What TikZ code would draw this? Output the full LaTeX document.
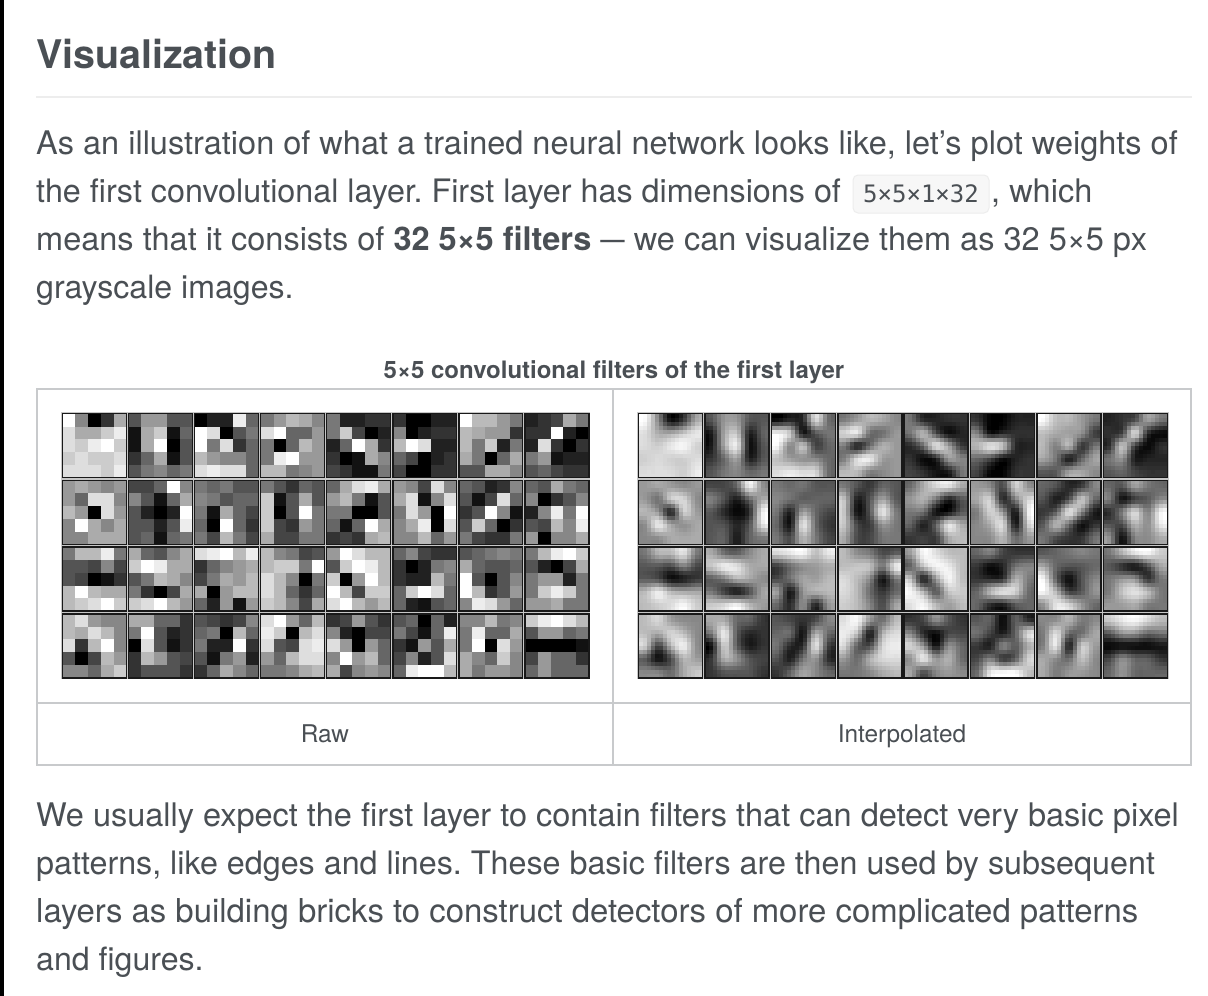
\documentclass[tikz,border=0pt]{standalone}
\usepackage{fontspec}
\setmainfont{TeX Gyre Heros}
\newfontfamily\codefont{DejaVu Sans Mono}
\frenchspacing

\definecolor{bodyink}{HTML}{4A4F54}
\definecolor{tablerule}{HTML}{C8CACC}

% gray levels of the 32 filters, one hex digit per pixel, 0 is black
\def\filterlist{
  F803A/DAACE/DCEFC/CDCCD/DDDCE, 59955/1AC16/1AF05/36A15/57867,
  022E6/FD057/F7D36/B9886/DEDD6, 79BA8/DF669/706B9/7EF99/BB789,
  72233/7C402/26FA3/301A8/43117, 30022/80233/BFD22/64023/40033,
  FBB97/BA993/B7C27/A706A/55AA8, 234A7/33F20/2D303/79122/56433,
  9A989/96DD8/B90D9/8FA8A/88AAA, 446F8/8516A/5202F/5525E/56167,
  76755/87566/71A64/60F63/74B74, 75365/C15A5/C05F7/C4397/A4477,
  6ADEA/9B715/77005/616FA/343AB, 984D8/AD18D/7D90F/8AE0D/88B69,
  65238/514D6/35F81/5C603/74337, 65A76/80358/28E7F/54B8E/9088A,
  7BBE7/55484/54013/BFBAA/BCDFC, A658A/CFEAA/57BA8/7304A/CDFB9,
  DEFBE/3689A/47A9B/A09BB/62919, B8745/BCC7F/DB807/DB636/CB84A,
  9FDBB/5CFEB/C09FB/FB4CC/DFB9B, 68433/30278/322B7/6CFD6/62156,
  56787/A6556/F5058/FB359/8ED96, 7BEFC/5204A/79927/7CEC7/99A77,
  BD988/BADB8/D3BF8/504B9/886AC, AA663/7F523/0D513/3B954/35553,
  54348/670B6/722F3/51792/36A86, DF96B/EC0BD/D54DE/96BDD/778AB,
  34953/82044/D9096/8F9B6/A4898, 56062/7416E/3195A/4825D/6EFFB,
  88B78/7E66A/7F0D9/A86C8/A7998, CEFDB/59967/00001/49663/69666}

% sub-pixel offset and the four neighbours for the 16 interpolated samples
\foreach \sx/\ft/\ia/\ib/\ic/\id in {0/21/0/0/0/1, 1/31/0/0/0/1, 2/9/0/0/1/2, 3/19/0/0/1/2,
    4/29/0/0/1/2, 5/7/0/1/2/3, 6/17/0/1/2/3, 7/27/0/1/2/3, 8/5/1/2/3/4, 9/15/1/2/3/4,
    10/25/1/2/3/4, 11/3/2/3/4/4, 12/13/2/3/4/4, 13/23/2/3/4/4, 14/1/3/4/4/4, 15/11/3/4/4/4}{
  \expandafter\xdef\csname wa\sx\endcsname{\the\numexpr(480*\ft*\ft-7*\ft*\ft*\ft-9216*\ft+32768)/576\relax}
  \expandafter\xdef\csname wb\sx\endcsname{\the\numexpr(21*\ft*\ft*\ft-1152*\ft*\ft+524288)/576\relax}
  \expandafter\xdef\csname wc\sx\endcsname{\the\numexpr(864*\ft*\ft-21*\ft*\ft*\ft+9216*\ft+32768)/576\relax}
  \expandafter\xdef\csname wd\sx\endcsname{\the\numexpr(7*\ft*\ft*\ft-192*\ft*\ft)/576\relax}
  \expandafter\xdef\csname ia\sx\endcsname{\ia}
  \expandafter\xdef\csname ib\sx\endcsname{\ib}
  \expandafter\xdef\csname ic\sx\endcsname{\ic}
  \expandafter\xdef\csname id\sx\endcsname{\id}
}

\def\wt#1#2{\csname w#1#2\endcsname}
\def\idx#1#2{\csname i#1#2\endcsname}
\def\vcell#1#2{\csname v#1#2\endcsname}
\def\hcell#1#2{\csname h#1x#2\endcsname}

\newcommand{\storerow}[6]{%
  \expandafter\edef\csname v#10\endcsname{\number"#2}%
  \expandafter\edef\csname v#11\endcsname{\number"#3}%
  \expandafter\edef\csname v#12\endcsname{\number"#4}%
  \expandafter\edef\csname v#13\endcsname{\number"#5}%
  \expandafter\edef\csname v#14\endcsname{\number"#6}%
}
\newcommand{\readfilter}{%
  \expandafter\storerow\expandafter0\rowa
  \expandafter\storerow\expandafter1\rowb
  \expandafter\storerow\expandafter2\rowc
  \expandafter\storerow\expandafter3\rowd
  \expandafter\storerow\expandafter4\rowe
}
% smoothing along the rows
\newcommand{\hpass}{%
  \foreach \rr in {0,...,4}{\foreach \sx in {0,...,15}{%
    \expandafter\xdef\csname h\rr x\sx\endcsname{\the\numexpr 17*(%
      \wt a\sx*\vcell\rr{\idx a\sx}+\wt b\sx*\vcell\rr{\idx b\sx}+%
      \wt c\sx*\vcell\rr{\idx c\sx}+\wt d\sx*\vcell\rr{\idx d\sx})\relax}%
  }}%
}

\tikzset{
  bodytext/.style={anchor=base west, inner sep=0pt, text=bodyink, font=\fontsize{32.5}{48}\selectfont},
  tabletext/.style={anchor=base, inner sep=0pt, text=bodyink, font=\fontsize{24.4}{30}\selectfont},
  filterframe/.style={draw=black!90, line width=1.4pt},
  filterhalo/.style={draw=black!22, line width=3pt},
  tableline/.style={draw=tablerule, line width=2pt},
  codechip/.style={draw=black!7, fill=black!3, rounded corners=5pt, line width=1pt, inner sep=0pt,
    minimum width=136pt, minimum height=38pt, text=bodyink, font=\fontsize{24}{30}\codefont}
}

\begin{document}
\begin{tikzpicture}[x=1pt, y=-1pt]
  \useasboundingbox (0,0) rectangle (1208,996);
  \fill[white] (0,0) rectangle (1208,996);
  \fill[black] (0,0) rectangle (4,996);

  % heading
  \node[bodytext, font=\fontsize{39.4}{48}\bfseries] (heading) at (36,68) {Visualization};
  \draw[black!7, line width=1.5pt] (36,97) -- (1192,97);

  % first paragraph
  \node[bodytext] (lineone) at (36,154) {As an illustration of what a trained neural network looks like, let’s plot weights of};
  \node[bodytext, font=\fontsize{32.3}{48}\selectfont] (linetwo) at (36,202) {the first convolutional layer. First layer has dimensions of};
  \node[codechip] (dims) at (921,194) {5×5×1×32};
  \node[bodytext] (linetwob) at (991,202) {, which};
  \node[bodytext] (linethree) at (36,250) {means that it consists of \textbf{32 5×5 filters} \scalebox{0.75}[1]{—} we can visualize them as 32 5×5 px};
  \node[bodytext, font=\fontsize{32.1}{48}\selectfont] (linefour) at (36,298) {grayscale images.};

  % table
  \node[tabletext, font=\fontsize{24}{30}\bfseries] (caption) at (614,378) {5×5 convolutional filters of the first layer};
  \draw[tableline] (37,389) rectangle (1191,765);
  \draw[tableline] (613,389) -- (613,765);
  \draw[tableline] (37,703) -- (1191,703);
  \node[tabletext] (rawlabel) at (325,742) {Raw};
  \node[tabletext] (interplabel) at (902,742) {Interpolated};

  % raw filters
  \foreach \rowa/\rowb/\rowc/\rowd/\rowe [count=\fno] in \filterlist {
    \readfilter
    \pgfmathsetmacro\px{62.5+66.07*mod(\fno-1,8)}
    \pgfmathsetmacro\py{413.7+66.7*int((\fno-1)/8)}
    \draw[filterhalo] (\px,\py) rectangle ++(64,64);
    \foreach \rr in {0,...,4}{\foreach \cc in {0,...,4}{
      \edef\g{\the\numexpr100-\vcell\rr\cc*20/3\relax}
      \fill[black!\g] (\px+\cc*12.8,\py+\rr*12.8) rectangle ++(13.1,13.1);
    }}
    \draw[filterframe] (\px,\py) rectangle ++(64,64);
  }

  % interpolated filters
  \foreach \rowa/\rowb/\rowc/\rowd/\rowe [count=\fno] in \filterlist {
    \readfilter
    \hpass
    \pgfmathsetmacro\px{638.7+66.37*mod(\fno-1,8)}
    \pgfmathsetmacro\py{413.7+66.7*int((\fno-1)/8)}
    \draw[filterhalo] (\px,\py) rectangle ++(64,64);
    \foreach \sy in {0,...,15}{\foreach \sx in {0,...,15}{
      \edef\g{\the\numexpr100-(\wt a\sy*\hcell{\idx a\sy}\sx+\wt b\sy*\hcell{\idx b\sy}\sx+\wt c\sy*\hcell{\idx c\sy}\sx+\wt d\sy*\hcell{\idx d\sy}\sx)/2673664\relax}
      \ifnum\g<0 \def\g{0}\fi
      \ifnum\g>100 \def\g{100}\fi
      \fill[black!\g] (\px+\sx*4,\py+\sy*4) rectangle ++(4.4,4.4);
    }}
    \draw[filterframe] (\px,\py) rectangle ++(64,64);
  }

  % second paragraph
  \node[bodytext] (linefive) at (36,826) {We usually expect the first layer to contain filters that can detect very basic pixel};
  \node[bodytext, font=\fontsize{32.27}{48}\selectfont] (linesix) at (36,874) {patterns, like edges and lines. These basic filters are then used by subsequent};
  \node[bodytext, font=\fontsize{32.9}{48}\selectfont] (lineseven) at (36,922) {layers as building bricks to construct detectors of more complicated patterns};
  \node[bodytext, font=\fontsize{32.1}{48}\selectfont] (lineeight) at (36,970) {and figures.};
\end{tikzpicture}
\end{document}
